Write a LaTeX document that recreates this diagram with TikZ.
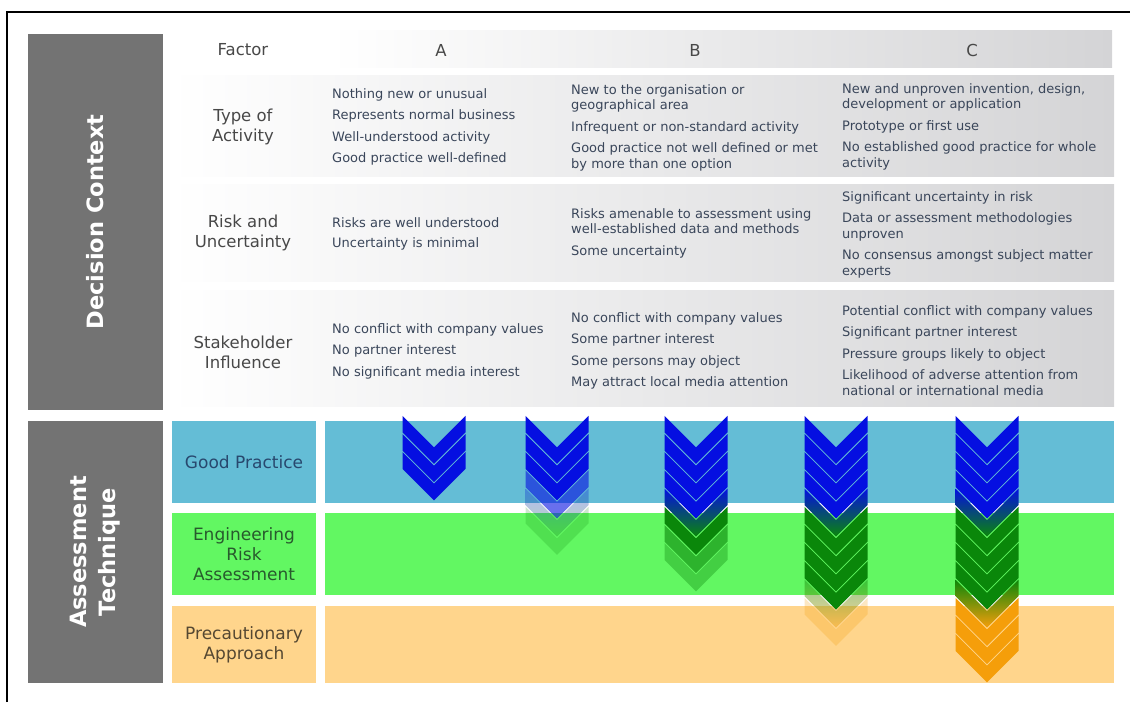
\documentclass[tikz,border=0pt]{standalone}
\usepackage{fontspec}
\setmainfont{DejaVu Sans}
\definecolor{slabgray}{RGB}{115,115,115}
\definecolor{rowgray}{RGB}{212,212,214}
\definecolor{itemtxt}{RGB}{58,70,90}
\definecolor{factortxt}{RGB}{72,72,72}
\definecolor{gpband}{RGB}{100,189,214}
\definecolor{eraband}{RGB}{98,247,98}
\definecolor{paband}{RGB}{255,213,140}
\definecolor{gptxt}{RGB}{40,72,110}
\definecolor{eratxt}{RGB}{40,90,45}
\definecolor{patxt}{RGB}{85,72,50}
\definecolor{cblue}{RGB}{5,15,225}
\definecolor{cgreen}{RGB}{10,135,10}
\definecolor{corange}{RGB}{245,158,10}
% one chevron: centre x, index from the top, fill options
\newcommand\chev[3]{\path[#3] ({#1-31.5},{415+18.2*#2+0.8}) -- ++(31.5,31.5) -- ++(31.5,-31.5)
  -- ++(0,16.6) -- ++(-31.5,31.5) -- ++(-31.5,-31.5) -- cycle;}

\begin{document}
\begin{tikzpicture}[x=1pt, y=-1pt, every node/.style={inner sep=0pt},
  item/.style={anchor=north west, align=left, text=itemtxt, font=\fontsize{13}{15.5}\selectfont},
  factor/.style={align=center, text=factortxt, font=\fontsize{16.5}{20}\selectfont},
  slab/.style={fill=slabgray, rotate=90, minimum height=135pt, text=white, align=center,
    font=\bfseries\fontsize{22.5}{29}\selectfont},
  lab/.style={minimum width=144pt, align=center, font=\fontsize{17}{20}\selectfont}]
\useasboundingbox (0,0) rectangle (1130,702);

% decision context table
\shade[left color=white, right color=rowgray] (330,30) rectangle (1112,67);
\shade[left color=white, right color=rowgray] (170,75) rectangle (1114,176);
\shade[left color=white, right color=rowgray] (170,184) rectangle (1114,281);
\shade[left color=white, right color=rowgray] (170,290) rectangle (1114,406);

\node[slab, minimum width=376pt] (ctx) at (95.5,222) {Decision Context};
\node[slab, minimum width=262pt] (tech) at (95.5,552) {Assessment\\Technique};

\node[factor] (fac) at (243,50) {Factor};
\node[factor] (ha) at (441,50) {A};
\node[factor] (hb) at (695,50) {B};
\node[factor] (hc) at (972,50) {C};

\node[factor] (act) at (243,127) {Type of\\Activity};
\node[item] (act-a) at (332,88) {Nothing new or unusual\\[6pt]Represents normal business\\[6pt]Well-understood activity\\[6pt]Good practice well-defined};
\node[item] (act-b) at (571,84) {New to the organisation or\\geographical area\\[6pt]Infrequent or non-standard activity\\[6pt]Good practice not well defined or met\\by more than one option};
\node[item] (act-c) at (842,83) {New and unproven invention, design,\\development or application\\[6pt]Prototype or first use\\[6pt]No established good practice for whole\\activity};

\node[factor] (risk) at (243,233) {Risk and\\Uncertainty};
\node[item] (risk-a) at (332,217) {Risks are well understood\\[4.5pt]Uncertainty is minimal};
\node[item] (risk-b) at (571,208) {Risks amenable to assessment using\\well-established data and methods\\[6pt]Some uncertainty};
\node[item] (risk-c) at (842,191) {Significant uncertainty in risk\\[6pt]Data or assessment methodologies\\unproven\\[6pt]No consensus amongst subject matter\\experts};

\node[factor] (stake) at (243,352) {Stakeholder\\Influence};
\node[item] (stake-a) at (332,323) {No conflict with company values\\[6pt]No partner interest\\[6pt]No significant media interest};
\node[item] (stake-b) at (571,312) {No conflict with company values\\[6pt]Some partner interest\\[6pt]Some persons may object\\[6pt]May attract local media attention};
\node[item] (stake-c) at (842,305) {Potential conflict with company values\\[6pt]Significant partner interest\\[6pt]Pressure groups likely to object\\[6pt]Likelihood of adverse attention from\\national or international media};

% assessment technique bands
\node[lab, fill=gpband, text=gptxt, minimum height=82pt] (gp) at (244,462) {Good Practice};
\node[lab, fill=eraband, text=eratxt, minimum height=82pt] (era) at (244,554) {Engineering\\Risk\\Assessment};
\node[lab, fill=paband, text=patxt, minimum height=77pt] (pa) at (244,644.5) {Precautionary\\Approach};
\fill[gpband] (325,421) rectangle (1114,503);
\fill[eraband] (325,513) rectangle (1114,595);
\fill[paband] (325,606) rectangle (1114,683);

% chevron stacks
\foreach \k in {0,1,2} \chev{434}{\k}{fill=cblue};

\foreach \k in {0,1,2} \chev{557}{\k}{fill=cblue};
\chev{557}{3}{fill=cblue, fill opacity=0.6}
\chev{557}{4}{top color=cblue, bottom color=cgreen, fill opacity=0.3}
\chev{557}{5}{fill=cgreen, fill opacity=0.2}

\foreach \k in {0,...,3} \chev{696}{\k}{fill=cblue};
\chev{696}{4}{top color=cblue, bottom color=cgreen}
\chev{696}{5}{fill=cgreen}
\chev{696}{6}{fill=cgreen, fill opacity=0.6}
\chev{696}{7}{fill=cgreen, fill opacity=0.35}

\foreach \k in {0,...,3} \chev{836}{\k}{fill=cblue};
\chev{836}{4}{top color=cblue, bottom color=cgreen}
\foreach \k in {5,...,8} \chev{836}{\k}{fill=cgreen};
\chev{836}{9}{top color=cgreen, bottom color=corange, fill opacity=0.45}
\chev{836}{10}{fill=corange, fill opacity=0.25}

\foreach \k in {0,...,3} \chev{987}{\k}{fill=cblue};
\chev{987}{4}{top color=cblue, bottom color=cgreen}
\foreach \k in {5,...,8} \chev{987}{\k}{fill=cgreen};
\chev{987}{9}{top color=cgreen, bottom color=corange}
\foreach \k in {10,11,12} \chev{987}{\k}{fill=corange};

% frame
\draw[line width=2pt] (7,702) -- (7,12) -- (1130,12);
\end{tikzpicture}
\end{document}
